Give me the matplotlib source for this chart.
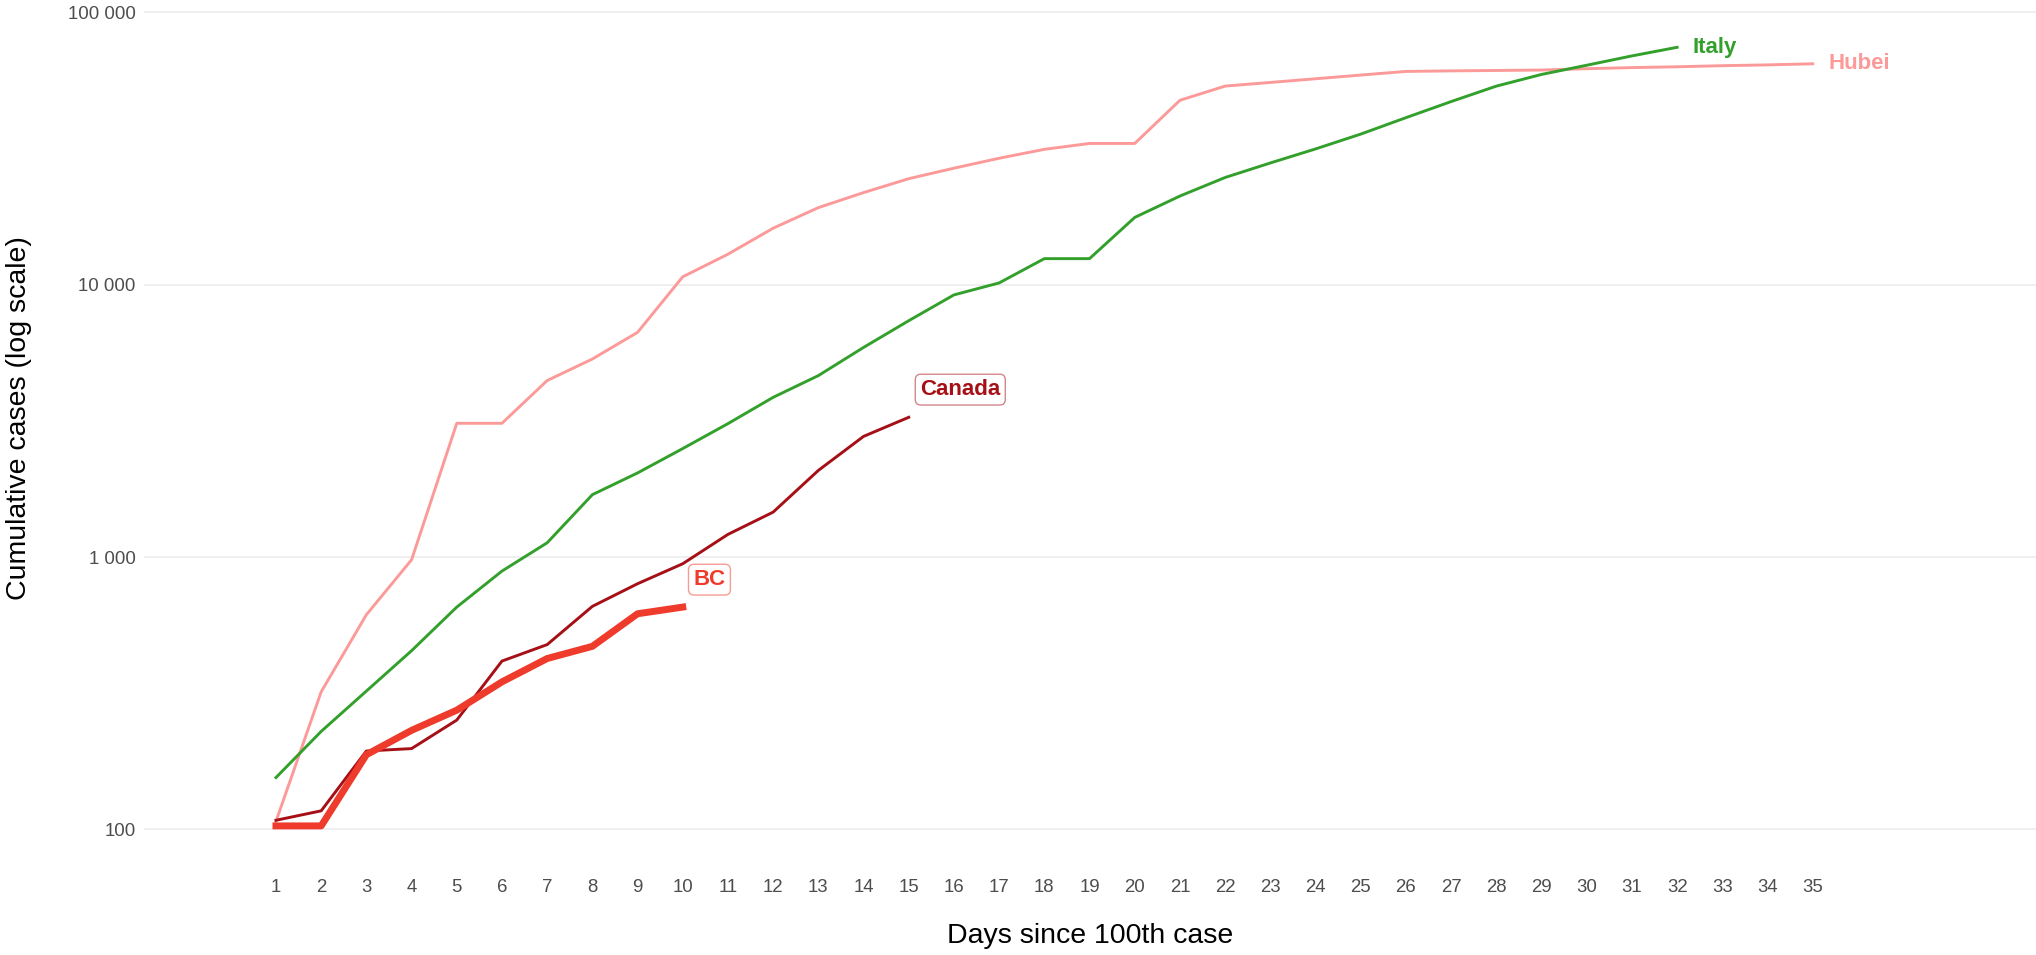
import matplotlib
matplotlib.use("Agg")
import matplotlib.pyplot as plt
from matplotlib.ticker import FixedLocator, FuncFormatter, NullLocator

plt.rcParams['font.family'] = ['Liberation Sans', 'DejaVu Sans']

# values
hubei = [107, 320, 614, 977, 3098, 3098, 4446, 5334, 6683, 10690,
         12940, 16120, 19180, 21780, 24500, 26770, 29120, 31400, 33000, 33000,
         47530, 53600, 55270, 57020, 58830, 60670, 60950, 61160, 61380, 62090,
         62660, 63100, 63680, 64120, 64710]
italy = [155, 229, 322, 453, 655, 888, 1128, 1694, 2036, 2502,
         3089, 3858, 4636, 5883, 7375, 9172, 10149, 12462, 12462, 17660,
         21157, 24747, 27980, 31506, 35713, 41035, 47021, 53578, 59138, 63927,
         69176, 74386]
canada = [108, 117, 194, 198, 252, 415, 477, 659, 798, 945,
          1211, 1462, 2080, 2773, 3259]
bc = [103, 103, 188, 231, 274, 348, 424, 470, 619, 655]

day_ticks = list(range(1, 36))
y_ticks = [100, 1000, 10000, 100000]

c_hubei = '#FB9A99'
c_italy = '#33A02C'
c_canada = '#A50F15'
c_bc = '#EF3B2C'

fig = plt.figure(figsize=(20.36, 9.55), dpi=100)
ax = fig.add_axes([144 / 2036, 1 - 864.8 / 955, 1 - 144 / 2036, (864.8 - 8.5) / 955])


def days(series):
    return list(range(1, len(series) + 1))


ax.plot(days(hubei), hubei, color=c_hubei, lw=2.1, solid_joinstyle='round', zorder=3)
ax.plot(days(italy), italy, color=c_italy, lw=2.1, solid_joinstyle='round', zorder=3)
ax.plot(days(canada), canada, color=c_canada, lw=2.1, solid_joinstyle='round', zorder=4)
ax.plot(days(bc), bc, color=c_bc, lw=5.0, solid_joinstyle='round', zorder=5)

# end labels
ax.text(len(italy) + 0.33, italy[-1], 'Italy', color=c_italy, fontsize=16,
        fontweight='bold', ha='left', va='center')
ax.text(len(hubei) + 0.35, hubei[-1], 'Hubei', color=c_hubei, fontsize=16,
        fontweight='bold', ha='left', va='center')
ax.text(16.14, 4118, 'Canada', color=c_canada, fontsize=16, fontweight='bold',
        ha='center', va='center',
        bbox=dict(boxstyle='round,pad=0.22,rounding_size=0.25', fc='white',
                  ec=(0.647, 0.059, 0.082, 0.5), lw=1.0))
ax.text(10.59, 826, 'BC', color=c_bc, fontsize=16, fontweight='bold',
        ha='center', va='center',
        bbox=dict(boxstyle='round,pad=0.22,rounding_size=0.25', fc='white',
                  ec=(0.937, 0.231, 0.173, 0.5), lw=1.0))

ax.set_yscale('log')
ax.set_xlim(-1.92, 39.94)
ax.set_ylim(10 ** 1.870, 10 ** 5.014)

ax.xaxis.set_major_locator(FixedLocator(day_ticks))
ax.xaxis.set_minor_locator(NullLocator())
ax.yaxis.set_major_locator(FixedLocator(y_ticks))
ax.yaxis.set_minor_locator(NullLocator())
ax.yaxis.set_major_formatter(FuncFormatter(lambda v, p: f"{int(round(v)):,}".replace(',', ' ')))

ax.tick_params(axis='both', length=0, labelsize=13.4, labelcolor='#4D4D4D')
ax.tick_params(axis='x', pad=10)
ax.tick_params(axis='y', pad=6)

ax.grid(axis='y', color='#EBEBEB', lw=1.1)
ax.grid(axis='x', visible=False)
ax.set_axisbelow(True)
for s in ax.spines.values():
    s.set_visible(False)

fig.text(1090 / 2036, 1 - 936 / 955, 'Days since 100th case', fontsize=20.5,
         ha='center', va='center', color='black')
fig.text(19.5 / 2036, 1 - 418 / 955, 'Cumulative cases (log scale)', fontsize=20.5,
         ha='center', va='center', rotation=90, color='black')

fig.savefig('out.png', dpi=100)
